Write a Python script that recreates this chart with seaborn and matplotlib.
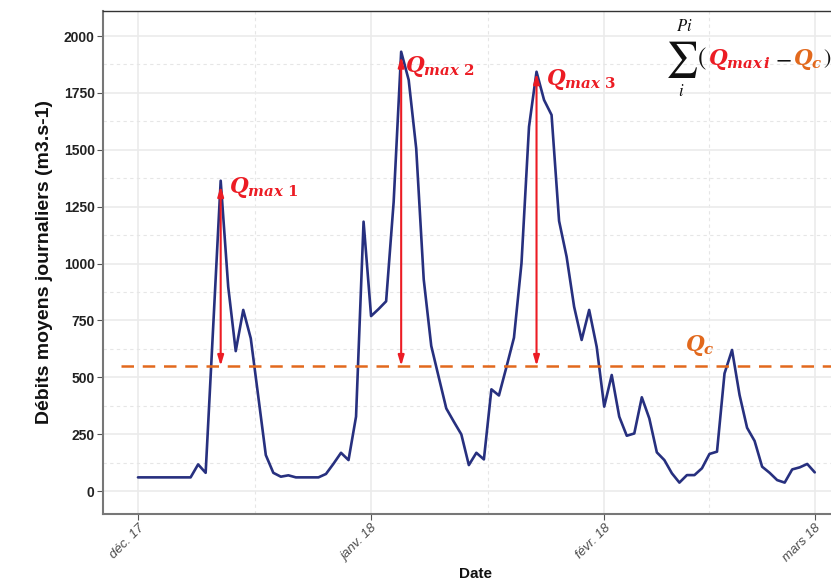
import matplotlib
matplotlib.use("Agg")
import matplotlib.pyplot as plt
import matplotlib.dates as mdates
from matplotlib.ticker import MultipleLocator, FixedLocator
from matplotlib.transforms import ScaledTranslation
import numpy as np
import pandas as pd
import seaborn as sns

################## Donnees ##################

debits = [
    60, 60, 60, 60, 60, 60, 60, 60, 117, 80,
    720, 1364, 898, 615, 796, 671, 415, 158, 80, 63,
    69, 60, 60, 60, 60, 75, 120, 168, 136, 327,
    1184, 769, 800, 834, 1270, 1931, 1807, 1506, 930, 638,
    500, 363, 305, 249, 114, 168, 139, 447, 420, 545,
    674, 1001, 1601, 1843, 1719, 1653, 1187, 1030, 810, 664,
    796, 634, 371, 510, 327, 243, 253, 412, 319, 170,
    136, 78, 37, 70, 70, 100, 163, 173, 517, 620,
    422, 278, 220, 107, 80, 48, 37, 95, 104, 119,
    82,
]
dates = pd.date_range("2017-12-01", periods=len(debits), freq="D")

q_c = 550
qmax_dates = pd.to_datetime(["2017-12-12", "2018-01-05", "2018-01-23"])
qmax_hauts = [1340, 1909, 1836]
qmax_labels = ["1", "2", "3"]
qmax_label_y = [1335, 1865, 1810]
qmax_decalage = [1.1, 0.5, 1.3]  # jours

mois_ticks = pd.to_datetime(["2017-12-01", "2018-01-01", "2018-02-01", "2018-03-01"])
mois_labels = ["déc. 17", "janv. 18", "févr. 18", "mars 18"]
mois_minor = pd.to_datetime(["2017-12-16 12:00", "2018-01-16 12:00", "2018-02-15 00:00"])

df = pd.DataFrame({"Date": dates, "Debit": debits})

################## Figure ##################

sns.set_style("whitegrid")
plt.rcParams["font.family"] = ["Liberation Sans", "DejaVu Sans"]
plt.rcParams["mathtext.fontset"] = "dejavuserif"

rouge = "#ec1c24"
orange = "#e2691d"
bleu = "#27307f"

fig = plt.figure(figsize=(8.31, 5.81), dpi=100)
ax = fig.add_axes([103 / 831, 67 / 581, 745.6 / 831, 503 / 581])

sns.lineplot(data=df, x="Date", y="Debit", ax=ax, color=bleu, linewidth=1.9)

ax.axhline(q_c, color=orange, linestyle=(0, (5, 3.5)), linewidth=1.8,
           xmin=0.024, xmax=1, zorder=3)

for d, h in zip(qmax_dates, qmax_hauts):
    ax.annotate("", xy=(d, h), xytext=(d, q_c),
                arrowprops=dict(arrowstyle="<|-|>,head_length=0.6,head_width=0.18",
                                color=rouge, lw=1.5, shrinkA=0, shrinkB=0),
                zorder=4)

for d, y, lab, dx in zip(qmax_dates, qmax_label_y, qmax_labels, qmax_decalage):
    ax.text(d + pd.Timedelta(days=dx), y,
            r"$\mathbfit{Q}_{\mathbfit{max}\ \mathbf{" + lab + "}}$",
            color=rouge, fontsize=15.5, va="center", ha="left", zorder=5)

ax.text(pd.Timestamp("2018-02-11 17:00"), 640, r"$\mathbfit{Q}_{\mathbfit{c}}$",
        color=orange, fontsize=15.5, va="center", ha="left")

# formule de la somme en haut a droite
noir = "#111111"
fig.text(681 / 831, 1 - 60 / 581, r"$\sum$", fontsize=26, math_fontfamily="stix",
         ha="center", va="center", color=noir)
fig.text(684 / 831, 1 - 26 / 581, r"$Pi$", fontsize=12, math_fontfamily="stix",
         ha="center", va="center", color=noir)
fig.text(681 / 831, 1 - 91 / 581, r"$i$", fontsize=12, math_fontfamily="stix",
         ha="center", va="center", color=noir)
fig.text(697 / 831, 1 - 59 / 581, r"$($", fontsize=18, math_fontfamily="stix",
         ha="left", va="center", color=noir)
fig.text(708 / 831, 1 - 60 / 581, r"$\mathbfit{Q}_{\mathbfit{max\,i}}$", fontsize=15.5,
         ha="left", va="center", color=rouge)
fig.text(775 / 831, 1 - 59 / 581, r"$-$", fontsize=17, math_fontfamily="stix",
         ha="left", va="center", color=noir)
fig.text(793 / 831, 1 - 60 / 581, r"$\mathbfit{Q}_{\mathbfit{c}}$", fontsize=15.5,
         ha="left", va="center", color=orange)
fig.text(823 / 831, 1 - 59 / 581, r"$)$", fontsize=16, math_fontfamily="stix",
         ha="left", va="center", color=noir)

################## Axes ##################

ax.set_xlim(pd.Timestamp("2017-12-01") - pd.Timedelta(days=4.65),
            pd.Timestamp("2017-12-01") + pd.Timedelta(days=94.5))
ax.set_ylim(-101, 2110)

ax.set_xticks(mois_ticks)
ax.set_xticklabels(mois_labels, rotation=45, ha="right", rotation_mode="anchor",
                   fontstyle="italic", fontsize=9.5, color="#4d4d4d")
decal = ScaledTranslation(-5 / 100, -6 / 100, fig.dpi_scale_trans)
for lab in ax.get_xticklabels():
    lab.set_transform(lab.get_transform() + decal)
ax.xaxis.set_minor_locator(FixedLocator(mdates.date2num(mois_minor)))
ax.yaxis.set_major_locator(MultipleLocator(250))
ax.yaxis.set_minor_locator(MultipleLocator(125))
for lab in ax.get_yticklabels():
    lab.set_fontweight("bold")
    lab.set_fontsize(10)
    lab.set_color("#222222")

ax.tick_params(axis="both", which="major", length=4, width=0.8, color="#555555",
               direction="out", left=True, bottom=True, pad=2)
ax.tick_params(axis="both", which="minor", length=0)

ax.grid(True, which="major", color="#ebebeb", linewidth=1.2, linestyle="-")
ax.grid(True, which="minor", color="#e6e6e6", linewidth=0.8, linestyle=(0, (3, 3)))
ax.set_axisbelow(True)

for side in ["left", "bottom"]:
    ax.spines[side].set_color("#777777")
    ax.spines[side].set_linewidth(1.5)
ax.spines["top"].set_color("#333333")
ax.spines["top"].set_linewidth(1.0)
ax.spines["right"].set_color("#333333")

ax.set_xlabel("Date", fontsize=11, fontweight="bold", color="#111111", labelpad=2)
ax.set_ylabel("Débits moyens journaliers (m3.s-1)", fontsize=14, fontweight="bold",
              color="#111111", labelpad=8)

fig.savefig("out.png", dpi=100)
plt.close(fig)
